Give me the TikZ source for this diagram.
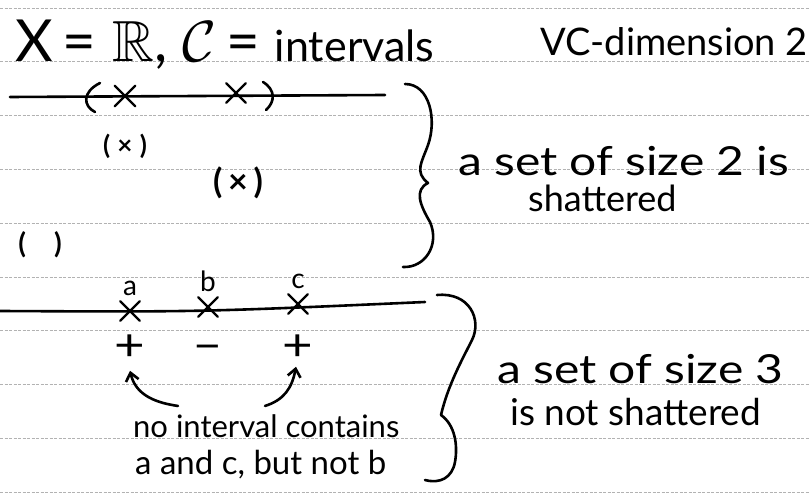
\documentclass[tikz,border=0pt]{standalone}
\usepackage{fix-cm}
\usepackage{amssymb}
\usepackage{fontspec}
\setmainfont{Lato}
\usetikzlibrary{arrows.meta, positioning, shapes.misc}

\tikzset{
  ink/.style={line width=2.6pt, line cap=round, line join=round},
  ruled/.style={black!30, line width=0.7pt, dash pattern=on 3pt off 1.5pt},
  hand/.style={inner sep=0pt, font=\fontsize{#1}{#1}\selectfont},
  handbf/.style={inner sep=0pt, font=\fontsize{#1}{#1}\selectfont\bfseries},
  wide/.style={xscale=1.2},
  xmark/.style={cross out, draw, line width=2.4pt, line cap=round, minimum size=#1, inner sep=0pt},
  arr/.style={ink, -{Straight Barb[length=8pt,width=13pt]}},
}

\begin{document}
\begin{tikzpicture}[x=1pt, y=-1pt]
  \fill[white] (0,0) rectangle (809,497);
  \useasboundingbox (0,0) rectangle (809,497);
  % ruled paper
  \foreach \k in {0,...,9}
    \draw[ruled] (0,{8+53.8*\k}) -- (809,{8+53.8*\k});

  % heading
  \node[hand=58, anchor=base west] (title) at (15,62)
    {X\,= \kern2pt$\mathbb{R}$, $\mathcal{C}$\,= {\fontsize{43}{43}\selectfont intervals}};
  \node[hand=38, anchor=base west] (vc) at (540,56) {VC-dimension 2};

  % two points, one interval around both
  \coordinate (west1) at (10,97);
  \coordinate (east1) at (385,95);
  \draw[ink] (west1) -- (east1);
  \node[xmark=18pt] (u) at (125,96) {};
  \node[xmark=17pt] (v) at (236,93) {};
  \draw[ink] (100,83) .. controls (82,92) and (83,106) .. (95,112);
  \draw[ink] (263,82) .. controls (276,90) and (275,102) .. (266,110);
  % the other labelings
  \node[handbf=26] (one) at (125,146) {(\;×\;)};
  \node[handbf=34] (two) at (238,183) {(\,×\,)};
  \node[handbf=28] (none) at (40,245) {(\quad)};
  \draw[ink] (405,84) .. controls (430,84) and (437,120) .. (428,145)
    .. controls (422,162) and (414,172) .. (428,183)
    .. controls (414,190) and (420,205) .. (430,222)
    .. controls (440,245) and (425,268) .. (403,267);
  \node[hand=40, wide, anchor=base west] (size2) at (458,176) {a set of size 2 is};
  \node[hand=36, anchor=base west] (shat) at (528,212) {shattered};

  % three points
  \coordinate (west2) at (0,311);
  \coordinate (east2) at (425,302);
  \draw[ink] (west2) .. controls (200,312) .. (east2);
  \node[xmark=17pt] (a) at (130,311) {};
  \node[xmark=17pt] (b) at (208,307) {};
  \node[xmark=17pt] (c) at (298,304) {};
  \node[hand=28, above=5pt of a] (la) {a};
  \node[hand=28, above=5pt of b] (lb) {b};
  \node[hand=28, above=5pt of c] (lc) {c};
  \node[hand=44, wide, below=14pt of a] (sa) {+};
  \node[hand=44, wide, below=28pt of b] (sb) {–};
  \node[hand=44, wide, below=21pt of c] (sc) {+};
  \node[hand=31, anchor=base west] (why1) at (133,437) {no interval contains};
  \node[hand=33, anchor=base west] (why2) at (135,474) {a and c, but not b};
  \coordinate (ta) at ([xshift=45pt,yshift=8pt]why1.north west);
  \coordinate (tb) at ([xshift=132pt,yshift=8pt]why1.north west);
  \draw[arr] (ta) .. controls (150,402) and (135,392) .. ([yshift=-10pt]sa.south);
  \draw[arr] (tb) .. controls (284,400) and (292,388) .. ([xshift=-2pt,yshift=-6pt]sc.south);
  \draw[ink] (437,295) .. controls (470,292) and (482,320) .. (472,340)
    .. controls (462,360) and (448,385) .. (441,415)
    .. controls (455,425) and (458,445) .. (455,462)
    .. controls (452,478) and (440,484) .. (425,480);
  \node[hand=40, wide, anchor=base west] (size3) at (497,383) {a set of size 3};
  \node[hand=37, anchor=base west] (notshat) at (510,425) {is not shattered};
\end{tikzpicture}
\end{document}
